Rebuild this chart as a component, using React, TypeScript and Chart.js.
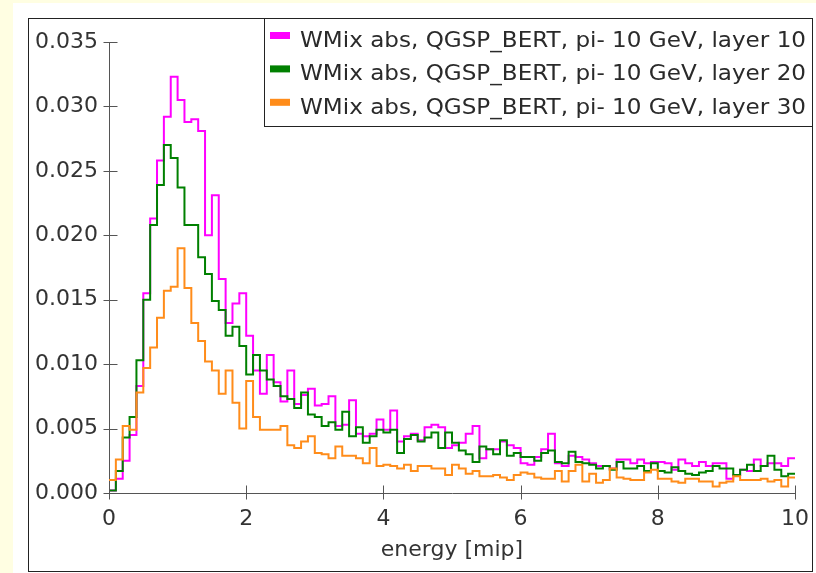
import React, { useEffect, useRef } from "react";
import { Chart, registerables } from "chart.js";

Chart.register(...registerables);

// Histogram binning (categories): 100 bins of width 0.1 from 0 to 10
const BIN_START = 0;
const BIN_WIDTH = 0.1;

const xTickValues = [0, 2, 4, 6, 8, 10];
const yTickValues = [0, 0.005, 0.01, 0.015, 0.02, 0.025, 0.03, 0.035];

const seriesLabels = [
  "WMix abs, QGSP_BERT, pi- 10 GeV, layer 10",
  "WMix abs, QGSP_BERT, pi- 10 GeV, layer 20",
  "WMix abs, QGSP_BERT, pi- 10 GeV, layer 30",
];
const seriesColors = ["#ff00ff", "#008000", "#ff8c1a"];

const layer10 = [
  0.0002, 0.0011, 0.0025, 0.0045, 0.0083, 0.0155, 0.0213, 0.0258, 0.0292, 0.0323,
  0.0305, 0.0288, 0.0290, 0.0281, 0.0200, 0.0231, 0.0166, 0.0132, 0.0147, 0.0155,
  0.0122, 0.0095, 0.0077, 0.0107, 0.0086, 0.0071, 0.0095, 0.0069, 0.0076, 0.0081,
  0.0068, 0.0069, 0.0075, 0.0052, 0.0053, 0.0072, 0.0046, 0.0044, 0.0046, 0.0057,
  0.0049, 0.0064, 0.0040, 0.0044, 0.0046, 0.0041, 0.0051, 0.0053, 0.0051, 0.0035,
  0.0037, 0.0039, 0.0046, 0.0052, 0.0027, 0.0034, 0.0034, 0.0040, 0.0037, 0.0035,
  0.0023, 0.0022, 0.0028, 0.0034, 0.0046, 0.0023, 0.0021, 0.0029, 0.0028, 0.0026,
  0.0023, 0.0021, 0.0021, 0.0019, 0.0026, 0.0026, 0.0023, 0.0026, 0.0023, 0.0024,
  0.0024, 0.0023, 0.0018, 0.0026, 0.0023, 0.0021, 0.0024, 0.0021, 0.0023, 0.0023,
  0.0011, 0.0014, 0.0018, 0.0017, 0.0026, 0.0021, 0.0023, 0.0023, 0.0021, 0.0027,
];

const layer20 = [
  0.0002, 0.0017, 0.0043, 0.0059, 0.0103, 0.0150, 0.0208, 0.0239, 0.0270, 0.0260,
  0.0237, 0.0208, 0.0208, 0.0183, 0.0170, 0.0149, 0.0142, 0.0122, 0.0129, 0.0114,
  0.0092, 0.0107, 0.0095, 0.0088, 0.0083, 0.0075, 0.0073, 0.0066, 0.0078, 0.0061,
  0.0059, 0.0052, 0.0055, 0.0049, 0.0063, 0.0044, 0.0051, 0.0039, 0.0044, 0.0049,
  0.0047, 0.0049, 0.0031, 0.0042, 0.0045, 0.0040, 0.0043, 0.0047, 0.0035, 0.0047,
  0.0039, 0.0033, 0.0030, 0.0024, 0.0036, 0.0034, 0.0030, 0.0041, 0.0029, 0.0031,
  0.0028, 0.0028, 0.0025, 0.0031, 0.0033, 0.0024, 0.0023, 0.0032, 0.0024, 0.0023,
  0.0022, 0.0019, 0.0021, 0.0018, 0.0024, 0.0019, 0.0019, 0.0021, 0.0017, 0.0023,
  0.0017, 0.0016, 0.0020, 0.0017, 0.0015, 0.0014, 0.0016, 0.0017, 0.0021, 0.0019,
  0.0019, 0.0014, 0.0018, 0.0022, 0.0017, 0.0021, 0.0029, 0.0018, 0.0013, 0.0015,
];

const layer30 = [
  0.0010, 0.0026, 0.0052, 0.0049, 0.0078, 0.0097, 0.0113, 0.0136, 0.0157, 0.0160,
  0.0190, 0.0159, 0.0132, 0.0118, 0.0102, 0.0095, 0.0077, 0.0095, 0.0070, 0.0050,
  0.0087, 0.0059, 0.0049, 0.0049, 0.0049, 0.0052, 0.0037, 0.0035, 0.0040, 0.0044,
  0.0031, 0.0030, 0.0027, 0.0036, 0.0029, 0.0029, 0.0027, 0.0023, 0.0035, 0.0021,
  0.0022, 0.0021, 0.0019, 0.0022, 0.0017, 0.0021, 0.0021, 0.0019, 0.0019, 0.0014,
  0.0022, 0.0019, 0.0015, 0.0017, 0.0013, 0.0013, 0.0014, 0.0012, 0.0010, 0.0014,
  0.0016, 0.0015, 0.0012, 0.0011, 0.0011, 0.0017, 0.0009, 0.0017, 0.0022, 0.0009,
  0.0015, 0.0008, 0.0010, 0.0019, 0.0012, 0.0011, 0.0010, 0.0010, 0.0016, 0.0018,
  0.0011, 0.0011, 0.0009, 0.0008, 0.0011, 0.0011, 0.0009, 0.0009, 0.0005, 0.0008,
  0.0009, 0.0013, 0.0010, 0.0010, 0.0010, 0.0011, 0.0009, 0.0010, 0.0005, 0.0012,
];

const seriesValues = [layer10, layer20, layer30];

const FONT = "'DejaVu Sans', sans-serif";

function toSteps(values: number[]) {
  const pts = values.map((v, i) => ({ x: +(BIN_START + i * BIN_WIDTH).toFixed(3), y: v }));
  pts.push({ x: +(BIN_START + values.length * BIN_WIDTH).toFixed(3), y: values[values.length - 1] });
  return pts;
}

const decorPlugin = {
  id: "decor",
  beforeDraw(chart: any) {
    const { ctx, width, height } = chart;
    ctx.save();
    ctx.fillStyle = "#fffee2";
    ctx.fillRect(0, 0, width, height);
    ctx.fillStyle = "#ffffff";
    ctx.fillRect(13, 3, width - 13, height - 3);
    ctx.strokeStyle = "#222222";
    ctx.lineWidth = 1;
    ctx.strokeRect(28.5, 18.5, 784, 553);
    ctx.restore();
  },
  afterDraw(chart: any) {
    const { ctx } = chart;
    const xs = chart.scales.x;
    const ys = chart.scales.y;
    ctx.save();
    ctx.strokeStyle = "#555555";
    ctx.lineWidth = 1;
    ctx.beginPath();
    const axisY = Math.round(ys.getPixelForValue(0)) + 0.5;
    const axisX = Math.round(xs.getPixelForValue(0)) + 0.5;
    xTickValues.forEach((v) => {
      const px = Math.round(xs.getPixelForValue(v)) + 0.5;
      ctx.moveTo(px, axisY - 8);
      ctx.lineTo(px, axisY + 6);
    });
    yTickValues.forEach((v) => {
      const py = Math.round(ys.getPixelForValue(v)) + 0.5;
      ctx.moveTo(axisX - 6, py);
      ctx.lineTo(axisX + 8, py);
    });
    ctx.stroke();

    // legend box
    const bx = 264.5, by = 18.5, bw = 548, bh = 108;
    ctx.fillStyle = "#ffffff";
    ctx.fillRect(bx, by, bw, bh);
    ctx.strokeStyle = "#222222";
    ctx.strokeRect(bx, by, bw, bh);
    ctx.font = `22px ${FONT}`;
    ctx.textBaseline = "alphabetic";
    ctx.textAlign = "left";
    const textTarget = 506;
    chart.data.datasets.forEach((ds: any, i: number) => {
      const rowY = 36 + i * 33.4;
      ctx.fillStyle = ds.borderColor;
      ctx.fillRect(270, rowY - 4, 20, 7);
      ctx.fillStyle = "#2a2a2a";
      const w = ctx.measureText(ds.label).width;
      const sx = w > 0 ? textTarget / w : 1;
      ctx.save();
      ctx.translate(300, rowY + 11);
      ctx.scale(sx, 1);
      ctx.fillText(ds.label, 0, 0);
      ctx.restore();
    });
    ctx.restore();
  },
};

export default function App() {
  const canvasRef = useRef<HTMLCanvasElement | null>(null);

  useEffect(() => {
    if (!canvasRef.current) return;
    const chart = new Chart(canvasRef.current, {
      type: "line",
      data: {
        datasets: seriesValues.map((vals, i) => ({
          label: seriesLabels[i],
          data: toSteps(vals),
          borderColor: seriesColors[i],
          backgroundColor: seriesColors[i],
          borderWidth: 2,
          pointRadius: 0,
          stepped: "before" as const,
          fill: false,
          order: seriesValues.length - i,
        })),
      },
      options: {
        animation: false,
        responsive: false,
        devicePixelRatio: 1,
        layout: { padding: { left: 0, right: 21, top: 42, bottom: 0 } },
        plugins: { legend: { display: false }, tooltip: { enabled: false } },
        scales: {
          x: {
            type: "linear",
            min: 0,
            max: 10,
            ticks: {
              stepSize: 2,
              color: "#333333",
              font: { family: FONT, size: 22 },
              padding: 13,
              maxRotation: 0,
              callback: (v: any) => String(v),
            },
            grid: { drawOnChartArea: false, drawTicks: false },
            border: { display: true, color: "#555555", width: 1 },
            title: {
              display: true,
              text: "energy [mip]",
              color: "#333333",
              font: { family: FONT, size: 22 },
              padding: { top: 0, bottom: 10 },
            },
            afterFit: (s: any) => {
              s.height = 80;
              s.paddingLeft = 0;
              s.paddingRight = 0;
            },
          },
          y: {
            type: "linear",
            min: 0,
            max: 0.035,
            ticks: {
              stepSize: 0.005,
              color: "#333333",
              font: { family: FONT, size: 22 },
              padding: 11,
              callback: (v: any) => Number(v).toFixed(3),
            },
            grid: { drawOnChartArea: false, drawTicks: false },
            border: { display: true, color: "#555555", width: 1 },
            afterFit: (s: any) => {
              s.width = 109;
              s.paddingTop = 0;
              s.paddingBottom = 0;
            },
          },
        },
      },
      plugins: [decorPlugin],
    });
    return () => chart.destroy();
  }, []);

  return (
    <div style={{ position: "fixed", left: 0, top: 0, width: 816, height: 573 }}>
      <canvas ref={canvasRef} width={816} height={573} style={{ display: "block" }} />
    </div>
  );
}
